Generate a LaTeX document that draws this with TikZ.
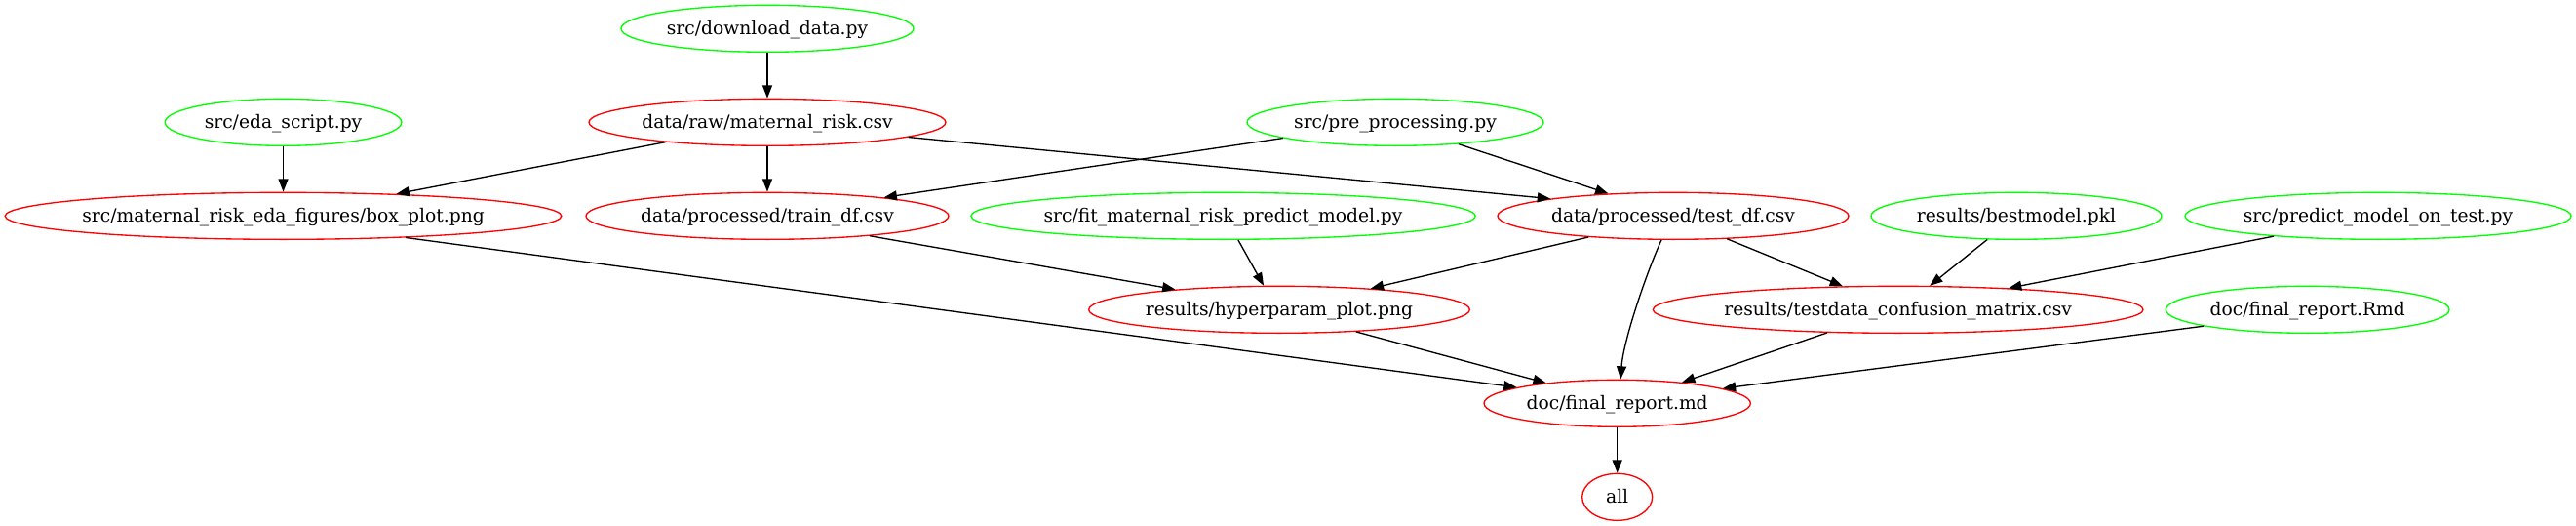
\documentclass[tikz,border=0pt]{standalone}
\usepackage{fontspec}
\setmainfont{DejaVu Serif}
\usetikzlibrary{shapes.geometric,arrows.meta}
\definecolor{gvgreen}{RGB}{0,255,0}
\definecolor{gvred}{RGB}{255,0,0}
\tikzset{
  gvnode/.style={ellipse, draw, line width=1pt, inner sep=0pt, minimum height=36pt,
    font=\fontsize{14pt}{16pt}\selectfont, text height=11.6pt, text depth=3pt},
  src/.style={gvnode, draw=gvgreen},
  tgt/.style={gvnode, draw=gvred},
  dep/.style={line width=1pt, -{Triangle[length=10pt,width=7.5pt]}},
}
\newcommand{\lbl}[1]{\makebox[0pt]{#1}}
\begin{document}
\begin{tikzpicture}
\useasboundingbox (0pt,0pt) rectangle (1981.5pt,-404.25pt);
% rank 0
\node[src, minimum width=225pt] (dl) at (590.25pt,-22pt) {\lbl{src/download\_data.py}};
% rank 1
\node[src, minimum width=182pt] (eda) at (217.9pt,-94pt) {\lbl{src/eda\_script.py}};
\node[tgt, minimum width=274.5pt] (raw) at (590.25pt,-94pt) {\lbl{data/raw/maternal\_risk.csv}};
\node[src, minimum width=228pt] (pre) at (1073.25pt,-94pt) {\lbl{src/pre\_processing.py}};
% rank 2
\node[tgt, minimum width=428pt] (box) at (217.9pt,-166pt) {\lbl{src/maternal\_risk\_eda\_figures/box\_plot.png}};
\node[tgt, minimum width=279pt] (train) at (590.25pt,-166pt) {\lbl{data/processed/train\_df.csv}};
\node[src, minimum width=388pt] (fit) at (940.9pt,-166pt) {\lbl{src/fit\_maternal\_risk\_predict\_model.py}};
\node[tgt, minimum width=270pt] (test) at (1287pt,-166pt) {\lbl{data/processed/test\_df.csv}};
\node[src, minimum width=223.5pt] (best) at (1551pt,-166pt) {\lbl{results/bestmodel.pkl}};
\node[src, minimum width=297pt] (pred) at (1829.25pt,-166pt) {\lbl{src/predict\_model\_on\_test.py}};
% rank 3
\node[tgt, minimum width=293pt] (hyp) at (984pt,-238pt) {\lbl{results/hyperparam\_plot.png}};
\node[tgt, minimum width=377pt] (conf) at (1460pt,-238pt) {\lbl{results/testdata\_confusion\_matrix.csv}};
\node[src, minimum width=218pt] (rmd) at (1775pt,-238pt) {\lbl{doc/final\_report.Rmd}};
% rank 4
\node[tgt, minimum width=205pt] (md) at (1244pt,-310pt) {\lbl{doc/final\_report.md}};
% rank 5
\node[tgt, minimum width=54pt] (all) at (1244pt,-382pt) {\lbl{all}};
% edges
\draw[dep] (dl.south) -- (raw.north);
\draw[dep] (eda.south) -- (box.north);
\draw[dep] (raw.191.4) -- (box.11.4);
\draw[dep] (raw.south) -- (train.north);
\draw[dep] (raw.354.5) -- (test.172.2);
\draw[dep] (pre.188.7) -- (train.9.7);
\draw[dep] (pre.341) -- (test.161.6);
\draw[dep] (box.350.95) -- (md.171.97);
\draw[dep] (train.349.5) -- (hyp.169.2);
\draw[dep] (fit.302) -- (hyp.123.3);
\draw[dep] (test.194.2) -- (hyp.13.9);
\draw[dep] (test.244) .. controls (1267.5pt,-207pt) and (1248.75pt,-261pt) .. (md.82.5);
\draw[dep] (test.337.3) -- (conf.157.8);
\draw[dep] (best.219.5) -- (conf.37.2);
\draw[dep] (pred.191.3) -- (conf.11.7);
\draw[dep] (hyp.344.5) -- (md.164.6);
\draw[dep] (conf.198.6) -- (md.18.85);
\draw[dep] (rmd.189) -- (md.8.5);
\draw[dep] (md.south) -- (all.north);
\end{tikzpicture}
\end{document}
